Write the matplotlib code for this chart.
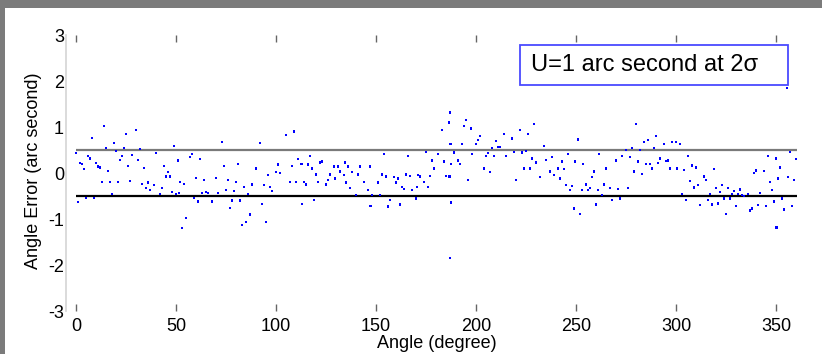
import matplotlib
matplotlib.use("Agg")
import matplotlib.pyplot as plt
from matplotlib.patches import Rectangle

plt.rcParams['font.family'] = ['Liberation Sans', 'DejaVu Sans']

# ---- data ----
angle = [0, 1, 2, 3, 4, 5, 6, 7, 8, 9, 10, 11, 12, 13, 14, 15, 16, 17, 18, 19,
         20, 21, 22, 23, 24, 25, 26, 27, 28, 30, 31, 32, 33, 34, 35, 36, 37, 39, 40, 42,
         43, 44, 45, 46, 47, 48, 49, 50, 51, 51.5, 52, 53, 54, 55, 57, 58, 59, 60, 61, 62,
         63, 64, 65, 66, 68, 70, 71, 73, 74, 75, 76, 77, 78, 79, 80, 81, 82, 83, 84, 85,
         86, 87, 88, 90, 92, 93, 94, 95, 96, 97, 98, 100, 101, 102, 105, 107, 108, 109, 110, 111,
         113, 114, 116,
         112.8, 115, 117, 118, 119, 120, 121, 122, 123, 125, 126, 127, 129, 129.5, 131, 132, 134, 134.5, 135, 136,
         137, 138, 140, 141, 142, 144, 146, 147, 147.3, 148, 151, 152, 153, 154, 155, 156, 157, 159, 160, 161,
         162, 163, 164, 165, 166, 167, 168, 170, 170.5, 171, 172, 174, 175, 176, 177, 178, 179, 181, 183, 184,
         185, 186.5, 187, 187.2, 187.4, 186.8, 187.6, 187.1, 189, 191, 192, 193, 194, 195, 196, 197.5, 198, 200,
         201, 202, 204, 205, 206, 207, 208, 209, 210, 211, 212, 214, 215, 218, 219, 220, 222, 223, 224, 225,
         226, 227, 228, 229, 230, 232, 234, 235, 237, 238, 239,
         241, 242, 243, 244, 245, 246, 247, 248, 249, 249.5, 251, 252, 253, 253.5, 255, 256, 257, 258, 259, 260,
         261, 261.5, 263, 264, 265, 267, 268, 270, 271, 272, 273, 275, 276, 277, 278, 279, 280, 281, 282, 283,
         284, 285, 286, 287, 288, 289, 290, 291, 292, 294, 295, 296, 297, 298, 300, 300.5, 302, 303, 304, 305,
         306, 307, 308, 309, 310, 311, 312, 314, 315, 316, 317, 318, 319, 320, 321, 322, 323, 324, 325, 326,
         327, 328, 329, 330, 331, 332, 333, 334, 336, 337, 338, 339, 340, 341, 342, 344, 345, 346, 347, 348,
         349, 350, 350.3, 351, 352, 353, 354, 355.5, 356, 357, 358, 359, 360]

error = [0.44, -0.63, 0.22, 0.20, 0.09, -0.54, 0.37, 0.32, 0.76, -0.54, 0.22, 0.14, 0.12, -0.20, 1.02, 0.54, 0.04, -0.20, -0.46, 0.65,
         0.48, -0.20, 0.28, 0.37, 0.54, 0.85, 0.15, -0.17, 0.39, 0.93, 0.28, 0.52, -0.24, 0.11, -0.33, -0.21, -0.37, -0.26, 0.44, -0.46,
         -0.33, 0.15, -0.08, 0.02, -0.08, -0.41, 0.59, -0.46, 0.27, -0.43, -0.20, -1.20, -0.24, -0.98, 0.35, 0.41, -0.54, -0.11, -0.62, 0.30,
         -0.43, -0.15, -0.41, -0.43, -0.62, -0.11, -0.43, 0.67, 0.15, -0.37, -0.15, -0.76, -0.60, -0.39, -0.20, 0.20, -0.60, -1.13, -0.30, -1.07,
         -0.46, -0.90, -0.25, 0.10, 0.65, -0.67, -0.26, -1.07, -0.04, -0.30, -0.39, 0.02, 0.19, 0.00, 0.83, -0.20, 0.15, 0.90, -0.20, 0.30,
         -0.67, -0.20, 0.19,
         0.20, -0.25, 0.37, 0.10, -0.59, -0.03, -0.20, 0.23, 0.25, -0.25, -0.15, -0.03, 0.14, -0.12, 0.14, 0.03, -0.04, 0.23, -0.21, 0.14,
         -0.33, 0.02, -0.48, -0.03, 0.14, -0.20, -0.37, 0.14, -0.72, -0.48, -0.21, -0.48, -0.03, 0.41, -0.08, -0.73, -0.59, -0.09, -0.21, -0.12,
         -0.68, -0.30, -0.35, -0.03, 0.37, -0.06, -0.37, -0.55, -0.30, -0.04, -0.08, -0.20, 0.46, -0.30, -0.07, 0.27, 0.10, 0.41, 0.93, 0.25,
         -0.07, 1.10, 1.32, 0.63, 0.20, -0.08, -0.64, -1.85, 0.45, 0.27, 0.20, 0.63, 1.02, 1.15, -0.15, 0.97, 0.41, 0.63,
         0.72, 0.80, 0.10, 0.37, 0.43, 0.02, 0.54, 0.37, 0.70, 0.56, 0.57, 0.85, 0.37, 0.75, 0.46, -0.15, 0.93, 0.45, 0.10, 0.48,
         0.85, 0.10, 0.32, 1.07, 0.23, -0.09, 0.59, 0.28, 0.03, 0.35, -0.04,
         0.10, -0.12, 0.25, 0.09, -0.26, 0.41, -0.37, -0.28, -0.77, 0.25, 0.73, -0.89, -0.37, 0.20, -0.25, -0.37, -0.33, -0.09, 0.03, -0.68,
         -0.37, 0.41, -0.48, -0.25, 0.10, -0.33, -0.59, 0.27, -0.35, -0.55, 0.37, 0.50, -0.33, 0.35, 0.54, 0.03, 1.07, 0.25, 0.50, -0.02,
         0.67, 0.20, 0.72, 0.20, 0.10, 0.54, 0.80, 0.22, 0.32, 0.63, 0.26, 0.27, 0.10, 0.67, 0.67, 0.10, 0.63, -0.46, 0.07, -0.59,
         0.37, -0.17, 0.16, -0.31, 0.12, -0.26, -0.70, -0.08, -0.15, -0.59, -0.46, -0.68, 0.09, -0.33, -0.66, -0.41, -0.26, -0.55, -0.89, -0.33,
         -0.55, -0.46, -0.39, -0.72, -0.46, -0.36, -0.48, -0.50, -0.46, -0.82, -0.77, 0.00, 0.05, -0.70, -0.44, 0.04, -0.72, 0.37, -0.20, -0.37,
         -0.62, 0.32, -1.18, -0.12, 0.12, -0.55, -0.79, 1.85, -0.09, 0.46, -0.72, -0.15, 0.30]

band_upper = 0.5
band_lower = -0.5
band_start, band_end = 0, 360.5
xticks = [0, 50, 100, 150, 200, 250, 300, 350]
yticks = [-3, -2, -1, 0, 1, 2, 3]
note = "U=1 arc second at 2\u03c3"

W, H = 822, 354
fig = plt.figure(figsize=(W / 100, H / 100), dpi=100, facecolor='white')

# gray frame strips (top and left)
fig.patches.append(Rectangle((0, 1 - 8 / H), 1, 8 / H, transform=fig.transFigure,
                             facecolor='#7b7b7b', edgecolor='none', zorder=-5))
fig.patches.append(Rectangle((0, 0), 5 / W, 1, transform=fig.transFigure,
                             facecolor='#7b7b7b', edgecolor='none', zorder=-5))

left, right, top, bottom = 66, 806, 35, 311
ax = fig.add_axes([left / W, 1 - bottom / H, (right - left) / W, (bottom - top) / H])
ax.set_facecolor('white')

ax.hlines(band_upper, band_start, band_end, color='#7a7a7a', lw=1.6, zorder=2)
ax.hlines(band_lower, band_start, band_end, color='black', lw=1.6, zorder=2)
ax.scatter(angle, error, s=3.2, marker='s', color='#0000ff', edgecolors='none', zorder=3)

ax.set_xlim(-5, 365)
ax.set_ylim(-3, 3)
ax.set_xticks(xticks)
ax.set_yticks(yticks)
ax.set_xticklabels([str(t) for t in xticks])
ax.set_yticklabels([str(t) for t in yticks])

for s in ['top', 'right', 'bottom']:
    ax.spines[s].set_visible(False)
ax.spines['left'].set_color('#d4d4d4')
ax.spines['left'].set_linewidth(1.2)

ax.tick_params(axis='x', direction='in', top=True, bottom=True, length=5, width=1.0,
               color='#666666', labelsize=13, pad=5)
ax.tick_params(axis='y', length=0, labelsize=13, pad=1.5)

fig.text(33 / W, 1 - 171 / H, "Angle Error (arc second)", rotation=90,
         ha='center', va='center', fontsize=13)
fig.text(437 / W, 1 - 343 / H, "Angle (degree)", ha='center', va='center', fontsize=13)

# annotation box
fig.patches.append(Rectangle((520 / W, 1 - 85 / H), (788 - 520) / W, 40 / H,
                             transform=fig.transFigure, facecolor='white',
                             edgecolor='#4a4aff', lw=1.3, zorder=4))
fig.text(531 / W, 1 - 65 / H, note, ha='left', va='center', fontsize=17, zorder=5)

fig.savefig("out.png", dpi=100, facecolor=fig.get_facecolor())
